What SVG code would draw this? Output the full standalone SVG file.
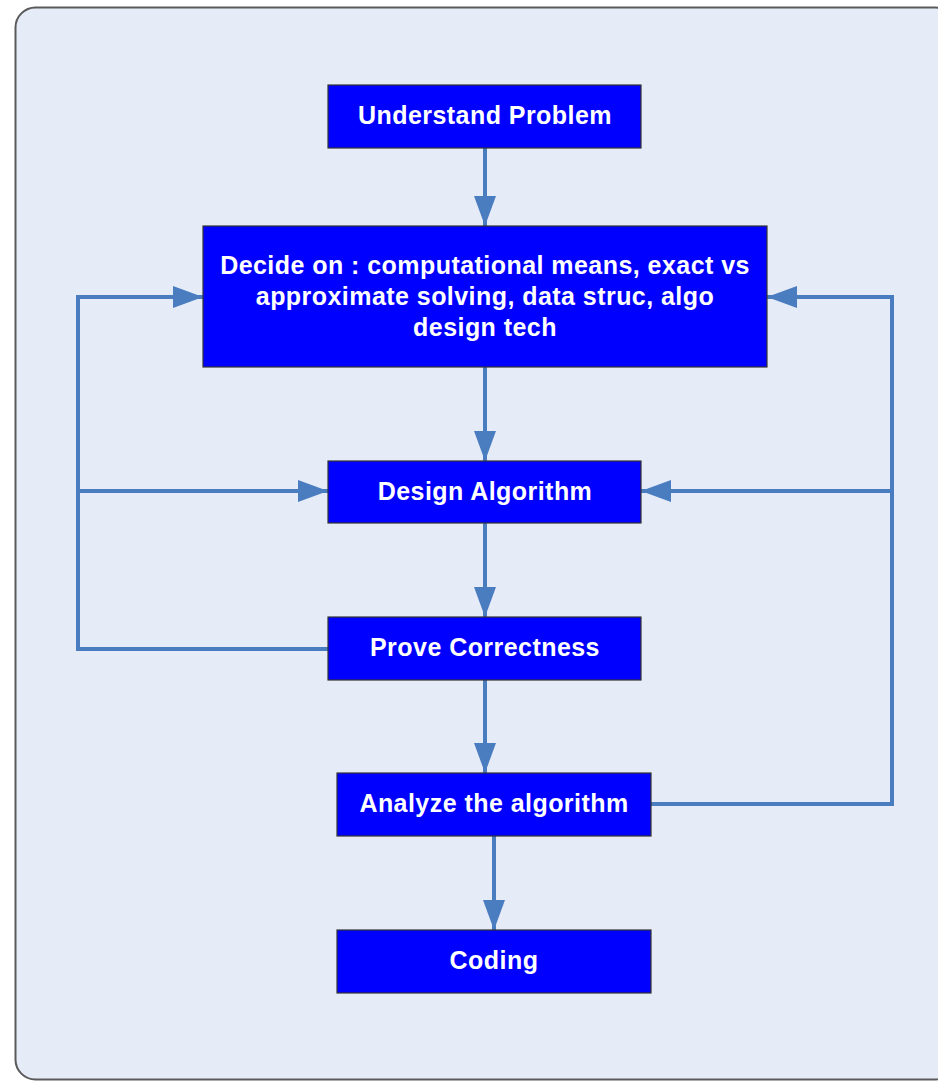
<svg xmlns="http://www.w3.org/2000/svg" width="938" height="1082" viewBox="0 0 938 1082">
  <defs>
    <marker id="arr" viewBox="0 0 30 22" refX="30" refY="11" markerWidth="30" markerHeight="22" markerUnits="userSpaceOnUse" orient="auto">
      <path d="M0,0 L30,11 L0,22 Z" fill="#4a7cc0"/>
    </marker>
    <style>
      .node rect { fill: #0000ff; stroke: #333333; stroke-width: 1.2; }
      .node text { fill: #ffffff; font-family: "Liberation Sans", Arial, sans-serif; font-weight: bold; font-size: 25px; letter-spacing: 0.45px; text-anchor: middle; }
      .conn path { fill: none; stroke: #4a7cc0; stroke-width: 4; }
    </style>
  </defs>
  <rect x="0" y="0" width="938" height="1082" fill="#ffffff"/>
  <rect id="frame" x="15.5" y="7.5" width="940" height="1072" rx="20" ry="20" fill="#e6ecf7" stroke="#5a5a5a" stroke-width="2"/>

  <g class="conn" id="connectors">
    <path d="M485,148 V226" marker-end="url(#arr)"/>
    <path d="M485,367 V461" marker-end="url(#arr)"/>
    <path d="M485,523 V617" marker-end="url(#arr)"/>
    <path d="M485,680 V773" marker-end="url(#arr)"/>
    <path d="M494,836 V930" marker-end="url(#arr)"/>
    <path d="M328,649 H78 V297 H203" marker-end="url(#arr)"/>
    <path d="M78,491 H328" marker-end="url(#arr)"/>
    <path d="M651,804 H892 V297 H767" marker-end="url(#arr)"/>
    <path d="M892,491 H641" marker-end="url(#arr)"/>
  </g>

  <g class="node" id="understand">
    <rect x="328" y="85" width="313" height="63"/>
    <text x="485" y="124">Understand Problem</text>
  </g>
  <g class="node" id="decide">
    <rect x="203" y="226" width="564" height="141"/>
    <text x="485" y="274">Decide on : computational means, exact vs</text>
    <text x="485" y="305">approximate solving, data struc, algo</text>
    <text x="485" y="336">design tech</text>
  </g>
  <g class="node" id="design">
    <rect x="328" y="461" width="313" height="62"/>
    <text x="485" y="500">Design Algorithm</text>
  </g>
  <g class="node" id="prove">
    <rect x="328" y="617" width="313" height="63"/>
    <text x="485" y="656">Prove Correctness</text>
  </g>
  <g class="node" id="analyze">
    <rect x="337" y="773" width="314" height="63"/>
    <text x="494" y="812">Analyze the algorithm</text>
  </g>
  <g class="node" id="coding">
    <rect x="337" y="930" width="314" height="63"/>
    <text x="494" y="969">Coding</text>
  </g>
</svg>
